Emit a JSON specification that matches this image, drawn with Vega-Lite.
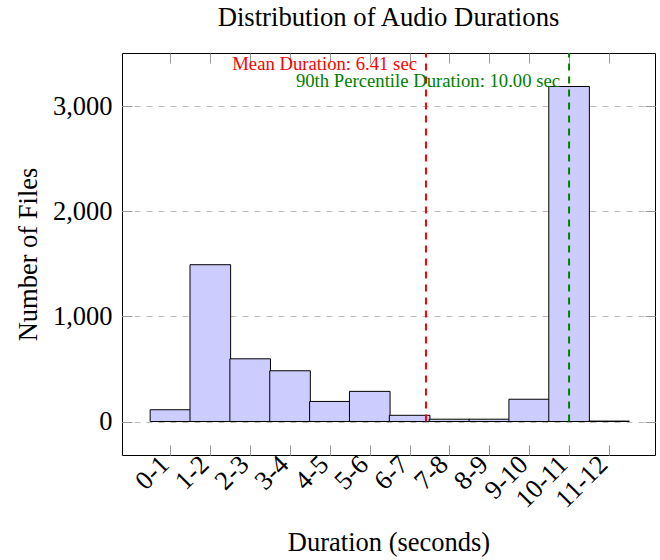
{
  "$schema": "https://vega.github.io/schema/vega-lite/v6.json",
  "width": 533,
  "height": 402,
  "autosize": {"type": "none"},
  "padding": {"left": 122, "top": 53, "right": 5, "bottom": 105},
  "background": "white",
  "config": {
    "font": "Liberation Serif",
    "view": {"stroke": "black", "strokeWidth": 1},
    "axis": {
      "domain": false,
      "labelFont": "Liberation Serif",
      "titleFont": "Liberation Serif",
      "labelFontSize": 26.5,
      "titleFontSize": 26.5,
      "labelColor": "black",
      "titleColor": "black",
      "titleFontWeight": "normal",
      "tickColor": "#999999",
      "tickWidth": 1,
      "tickSize": -10,
      "grid": false,
      "labelOverlap": false
    }
  },
  "title": {
    "text": "Distribution of Audio Durations",
    "font": "Liberation Serif",
    "fontSize": 26.7,
    "fontWeight": "normal",
    "color": "black",
    "frame": "group",
    "anchor": "middle",
    "offset": 20
  },
  "datasets": {
    "bins": [
      {"range": "0-1", "idx": 0, "count": 112},
      {"range": "1-2", "idx": 1, "count": 1493},
      {"range": "2-3", "idx": 2, "count": 597},
      {"range": "3-4", "idx": 3, "count": 483},
      {"range": "4-5", "idx": 4, "count": 191},
      {"range": "5-6", "idx": 5, "count": 287},
      {"range": "6-7", "idx": 6, "count": 59},
      {"range": "7-8", "idx": 7, "count": 22},
      {"range": "8-9", "idx": 8, "count": 22},
      {"range": "9-10", "idx": 9, "count": 212},
      {"range": "10-11", "idx": 10, "count": 3190},
      {"range": "11-12", "idx": 11, "count": 4}
    ],
    "stats": [
      {"kind": "Mean", "value": 6.41, "label": "Mean Duration: 6.41 sec", "labelY": 3400},
      {"kind": "P90", "value": 10.0, "label": "90th Percentile Duration: 10.00 sec", "labelY": 3245}
    ]
  },
  "layer": [
    {
      "data": {"name": "bins"},
      "mark": {"type": "bar", "fill": "#ccccff", "stroke": "black", "strokeWidth": 1, "width": 40.6},
      "encoding": {
        "x": {
          "field": "idx",
          "type": "quantitative",
          "scale": {"domain": [-1.09, 12.03], "nice": false, "zero": false},
          "axis": {
            "orient": "bottom",
            "values": [0, 1, 2, 3, 4, 5, 6, 7, 8, 9, 10, 11],
            "labelExpr": "datum.value + '-' + (datum.value + 1)",
            "labelAngle": -45,
            "labelAlign": "right",
            "labelBaseline": "middle",
            "labelPadding": 15,
            "labelOffset": -6,
            "title": "Duration (seconds)",
            "titlePadding": 17
          }
        },
        "y": {
          "field": "count",
          "type": "quantitative",
          "scale": {"domain": [-319, 3509], "nice": false, "zero": false},
          "axis": {
            "orient": "left",
            "values": [0, 1000, 2000, 3000],
            "format": ",.0f",
            "grid": true,
            "gridDash": [6, 6],
            "gridColor": "#bbbbbb",
            "gridWidth": 1,
            "labelPadding": 20,
            "title": "Number of Files",
            "titlePadding": 10
          }
        }
      }
    },
    {
      "data": {"name": "stats"},
      "mark": {"type": "rule", "strokeDash": [7, 6], "strokeWidth": 2},
      "encoding": {
        "x": {
          "field": "value",
          "type": "quantitative",
          "axis": {"orient": "top", "values": [0, 1, 2, 3, 4, 5, 6, 7, 8, 9, 10, 11], "labels": false, "title": null}
        },
        "y": {
          "datum": 0,
          "type": "quantitative",
          "axis": {"orient": "right", "values": [0, 1000, 2000, 3000], "labels": false, "title": null}
        },
        "y2": {"datum": 3509},
        "color": {
          "field": "kind",
          "type": "nominal",
          "scale": {"domain": ["Mean", "P90"], "range": ["#ff0000", "#008000"]},
          "legend": null
        }
      }
    },
    {
      "data": {"name": "stats"},
      "mark": {"type": "text", "align": "right", "baseline": "middle", "dx": -9, "font": "Liberation Serif", "fontSize": 18.7},
      "encoding": {
        "x": {"field": "value", "type": "quantitative", "axis": null},
        "y": {"field": "labelY", "type": "quantitative", "axis": null},
        "text": {"field": "label"},
        "color": {
          "field": "kind",
          "type": "nominal",
          "scale": {"domain": ["Mean", "P90"], "range": ["#ff0000", "#008000"]},
          "legend": null
        }
      }
    }
  ],
  "resolve": {"axis": {"x": "independent", "y": "independent"}}
}
